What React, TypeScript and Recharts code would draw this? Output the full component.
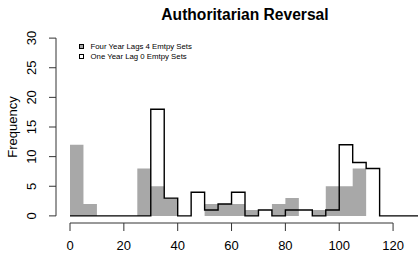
import React from 'react';
import { ComposedChart, Area, Line, XAxis, YAxis, ReferenceLine, Legend } from 'recharts';

const binStarts = [0, 5, 10, 15, 20, 25, 30, 35, 40, 45, 50, 55, 60, 65, 70, 75, 80, 85, 90, 95, 100, 105, 110, 115, 120, 125];
const fourYearLags = [12, 2, 0, 0, 0, 8, 5, 3, 0, 0, 2, 2, 2, 1, 0, 2, 3, 0, 1, 5, 5, 8, 0, 0, 0, 0];
const oneYearLag = [0, 0, 0, 0, 0, 0, 18, 3, 0, 4, 1, 2, 4, 0, 1, 0, 1, 1, 0, 1, 12, 9, 8, 0, 0, 0];
const xTicks = [0, 20, 40, 60, 80, 100, 120];
const yTicks = [0, 5, 10, 15, 20, 25, 30];
const binWidth = 5;
const xDomain: [number, number] = [-5.2, 135.2];
const yDomain: [number, number] = [-1.2, 31.2];
const seriesNames = ['Four Year Lags 4 Emtpy Sets', 'One Year Lag 0 Emtpy Sets'];
const title = 'Authoritarian Reversal';
const yLabel = 'Frequency';

// histogram table: each value is held from its bin start to the next; closed at the last bin end
const lastBin = binStarts.length - 1;
const histData = [
  ...binStarts.map((s, i) => ({ x: s, four: fourYearLags[i], one: oneYearLag[i] })),
  { x: binStarts[lastBin] + binWidth, four: fourYearLags[lastBin], one: oneYearLag[lastBin] },
];

const FONT = '"Liberation Sans", Arial, Helvetica, sans-serif';
const AXIS = '#333';
const GRAY = '#a8a8a8';

const XTick = (props: any) => {
  const { x, y, payload } = props;
  return (
    <text x={x} y={y + 19.3} textAnchor="middle" fontSize={13} fontFamily={FONT} fill="#000">
      {payload.value}
    </text>
  );
};

const YTick = (props: any) => {
  const { x, y, payload } = props;
  const bx = x - 12.7;
  return (
    <text x={bx} y={y} transform={`rotate(-90 ${bx} ${y})`} textAnchor="middle" fontSize={13} fontFamily={FONT} fill="#000">
      {payload.value}
    </text>
  );
};

const FreqLabel = (props: any) => {
  const vb = props.viewBox || { x: 16, y: 31, width: 40, height: 192 };
  const cx = 16.5;
  const cy = vb.y + vb.height / 2;
  return (
    <text x={cx} y={cy} transform={`rotate(-90 ${cx} ${cy})`} textAnchor="middle" fontSize={13} fontFamily={FONT} fill="#000">
      {yLabel}
    </text>
  );
};

const LegendContent = (props: any) => {
  const payload = props.payload || [];
  return (
    <div style={{ fontFamily: FONT, fontSize: 7.8, color: '#000' }}>
      {payload.map((p: any, i: number) => (
        <div key={i} style={{ display: 'flex', alignItems: 'center', height: 10, whiteSpace: 'nowrap' }}>
          <span
            style={{
              display: 'inline-block',
              boxSizing: 'border-box',
              width: 5,
              height: 5,
              border: '1px solid #000',
              background: p.dataKey === 'four' ? GRAY : '#ffffff',
              marginRight: 6.5,
            }}
          />
          <span>{p.value}</span>
        </div>
      ))}
    </div>
  );
};

export default function App() {
  return (
    <div style={{ position: 'absolute', left: 0, top: 0, width: 418, height: 253, overflow: 'hidden', background: '#fff' }}>
      <div
        style={{
          position: 'absolute',
          left: 0,
          top: 5.6,
          width: 490,
          textAlign: 'center',
          fontFamily: FONT,
          fontWeight: 'bold',
          fontSize: 15.6,
          lineHeight: '18px',
          color: '#000',
          zIndex: 2,
        }}
      >
        {title}
      </div>
      <ComposedChart
        width={440}
        height={253}
        data={histData}
        margin={{ top: 31, right: 6, bottom: 0, left: 16 }}
      >
        <XAxis
          dataKey="x"
          type="number"
          domain={xDomain}
          allowDataOverflow
          ticks={xTicks}
          interval={0}
          axisLine={false}
          tickLine={{ stroke: AXIS }}
          tickSize={8}
          tickMargin={0}
          height={30}
          tick={<XTick />}
        />
        <YAxis
          type="number"
          domain={yDomain}
          allowDataOverflow
          ticks={yTicks}
          interval={0}
          axisLine={false}
          tickLine={{ stroke: AXIS }}
          tickSize={7}
          tickMargin={0}
          width={40}
          tick={<YTick />}
          label={<FreqLabel />}
        />
        <Legend
          layout="horizontal"
          verticalAlign="middle"
          align="center"
          wrapperStyle={{ left: 79, top: 41, width: 200, height: 20 }}
          content={<LegendContent />}
        />
        <Area
          dataKey="four"
          name={seriesNames[0]}
          type="stepAfter"
          baseValue={0}
          fill={GRAY}
          fillOpacity={1}
          stroke="none"
          dot={false}
          activeDot={false}
          isAnimationActive={false}
        />
        <Line
          dataKey="one"
          name={seriesNames[1]}
          type="stepAfter"
          stroke="#000"
          strokeWidth={1.4}
          dot={false}
          activeDot={false}
          isAnimationActive={false}
        />
        <ReferenceLine
          segment={[{ x: xTicks[0], y: yDomain[0] }, { x: xTicks[xTicks.length - 1], y: yDomain[0] }]}
          stroke={AXIS}
          ifOverflow="visible"
        />
        <ReferenceLine
          segment={[{ x: xDomain[0], y: yTicks[0] }, { x: xDomain[0], y: yTicks[yTicks.length - 1] }]}
          stroke={AXIS}
          ifOverflow="visible"
        />
      </ComposedChart>
    </div>
  );
}
